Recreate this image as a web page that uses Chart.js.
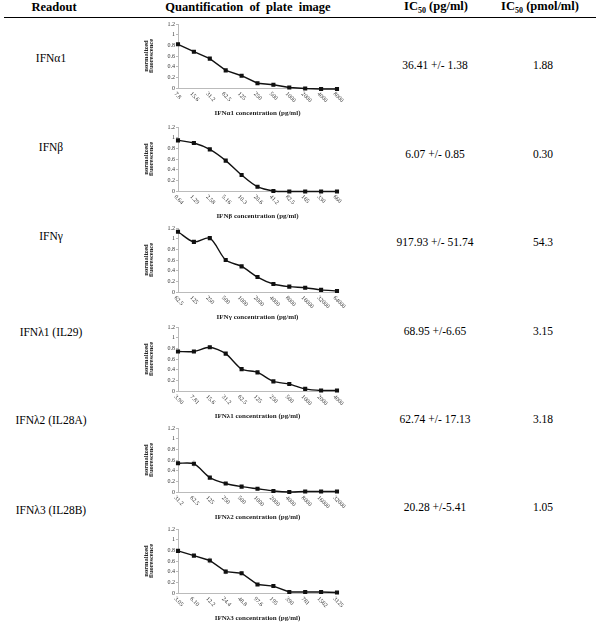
<!DOCTYPE html>
<html>
<head>
<meta charset="utf-8">
<script src="https://cdn.jsdelivr.net/npm/chart.js@4.4.0/dist/chart.umd.min.js"></script>
<style>
body { margin: 0; background: #fff; width: 600px; height: 627px; position: relative; overflow: hidden; font-family: 'Liberation Serif', 'Times New Roman', serif; color: #000; }
.t { position: absolute; white-space: nowrap; transform: translate(-50%, -50%); font-family: 'Liberation Serif', 'Times New Roman', serif; font-size: 11.5px; }
.h { font-weight: bold; font-size: 12.5px; }
.h sub { font-size: 8px; }
.rule { position: absolute; left: 4px; width: 592px; top: 17px; height: 1px; background: #000; }
canvas { position: absolute; }
</style>
</head>
<body>
<div class="rule"></div>
<div class="t h" style="left:54px;top:7px">Readout</div>
<div class="t h" style="left:248px;top:7px">Quantification&nbsp; of&nbsp; plate&nbsp; image</div>
<div class="t h" style="left:436px;top:7px">IC<sub>50</sub> (pg/ml)</div>
<div class="t h" style="left:540px;top:7px">IC<sub>50</sub> (pmol/ml)</div>
<script>
// table text
const readouts = ['IFNα1', 'IFNβ', 'IFNγ', 'IFNλ1 (IL29)', 'IFNλ2 (IL28A)', 'IFNλ3 (IL28B)'];
const ic50Pg = ['36.41 +/- 1.38', '6.07 +/- 0.85', '917.93 +/- 51.74', '68.95 +/-6.65', '62.74 +/- 17.13', '20.28 +/-5.41'];
const ic50Pmol = ['1.88', '0.30', '54.3', '3.15', '3.18', '1.05'];
const axisTitles = ['IFNα1 concentration (pg/ml)', 'IFNβ concentration (pg/ml)', 'IFNγ concentration (pg/ml)',
                    'IFNλ1 concentration (pg/ml)', 'IFNλ2 concentration (pg/ml)', 'IFNλ3 concentration (pg/ml)'];

// concentrations (x categories) and normalized fluorescence per readout
const alpha1Conc = ['7.8', '15.6', '31.2', '62.5', '125', '250', '500', '1000', '2000', '4000', '8000'];
const alpha1Vals = [0.82, 0.68, 0.55, 0.33, 0.23, 0.09, 0.06, 0.01, -0.01, -0.02, -0.02];

const betaConc = ['0.64', '1.29', '2.58', '5.16', '10.3', '20.6', '41.2', '82.5', '165', '330', '660'];
const betaVals = [0.95, 0.90, 0.78, 0.57, 0.30, 0.08, 0.00, -0.01, -0.01, -0.01, -0.01];

const gammaConc = ['62.5', '125', '250', '500', '1000', '2000', '4000', '8000', '16000', '32000', '64000'];
const gammaVals = [1.13, 0.94, 1.01, 0.60, 0.48, 0.28, 0.15, 0.10, 0.08, 0.04, 0.02];

const lambda1Conc = ['3.90', '7.81', '15.6', '31.2', '62.5', '125', '250', '500', '1000', '2000', '4000'];
const lambda1Vals = [0.74, 0.74, 0.82, 0.70, 0.41, 0.35, 0.18, 0.13, 0.04, 0.01, 0.01];

const lambda2Conc = ['31.2', '62.5', '125', '250', '500', '1000', '2000', '4000', '8000', '16000', '32000'];
const lambda2Vals = [0.54, 0.53, 0.27, 0.16, 0.10, 0.06, 0.02, 0.00, 0.01, 0.01, 0.01];
const lambda2Err = [0.02, 0.07, 0.03, 0.02, 0.01, 0.01, 0.01, 0, 0, 0, 0];

const lambda3Conc = ['3.05', '6.10', '12.2', '24.4', '48.8', '97.6', '195', '390', '781', '1562', '3125'];
const lambda3Vals = [0.79, 0.70, 0.61, 0.40, 0.37, 0.16, 0.13, 0.02, 0.02, 0.02, 0.01];
const lambda3Err = [0.02, 0, 0.06, 0.05, 0.04, 0.02, 0.02, 0.01, 0, 0, 0];

const yTicks = [0, 0.2, 0.4, 0.6, 0.8, 1, 1.2];

// layout
const labelY = [58, 147, 236, 332, 420, 510];
const icY = [65, 154, 242, 331, 419, 507];
const plotTop = [24, 127, 228, 327, 428, 529];

readouts.forEach((r, i) => {
    const add = (txt, x, y) => {
        const d = document.createElement('div');
        d.className = 't';
        d.style.left = x + 'px';
        d.style.top = y + 'px';
        d.textContent = txt;
        document.body.appendChild(d);
    };
    add(r, 51, labelY[i]);
    add(ic50Pg[i], 435, icY[i]);
    add(ic50Pmol[i], 543, icY[i]);
});

// x tick labels slanted downward to the right, like the original Excel plots
const slantedTicks = {
    id: 'slantedTicks',
    afterDraw(chart) {
        const xs = chart.scales.x;
        const ctx = chart.ctx;
        ctx.save();
        ctx.font = '6px "Liberation Serif"';
        ctx.fillStyle = '#333';
        ctx.textBaseline = 'middle';
        chart.data.labels.forEach((lab, i) => {
            ctx.save();
            ctx.translate(xs.getPixelForTick(i) - 3, xs.top + 5);
            ctx.rotate(Math.PI / 4);
            ctx.fillText(lab, 0, 0);
            ctx.restore();
        });
        ctx.restore();
    }
};

// faint grey error bars, drawn under the line
const errorBars = {
    id: 'errorBars',
    beforeDatasetsDraw(chart, args, opts) {
        if (!opts.err) return;
        const { x: xs, y: ys } = chart.scales;
        const vals = chart.data.datasets[0].data;
        const ctx = chart.ctx;
        ctx.save();
        ctx.strokeStyle = '#cfcfcf';
        ctx.lineWidth = 1;
        opts.err.forEach((e, i) => {
            if (!e) return;
            const x = xs.getPixelForTick(i);
            ctx.beginPath();
            ctx.moveTo(x, ys.getPixelForValue(vals[i] - e));
            ctx.lineTo(x, ys.getPixelForValue(vals[i] + e));
            ctx.stroke();
        });
        ctx.restore();
    }
};

function makeChart(i, labels, values, tension, err) {
    const cv = document.createElement('canvas');
    cv.width = 222;
    cv.height = 101;
    cv.style.left = '130px';
    cv.style.top = (plotTop[i] - 6) + 'px';
    cv.style.width = '222px';
    cv.style.height = '101px';
    document.body.appendChild(cv);
    new Chart(cv, {
        type: 'line',
        data: {
            labels: labels,
            datasets: [{
                data: values,
                borderColor: '#111',
                backgroundColor: '#111',
                borderWidth: 1.4,
                pointStyle: 'rect',
                pointRadius: 1.9,
                tension: tension,
                clip: 5
            }]
        },
        options: {
            responsive: false,
            maintainAspectRatio: false,
            animation: false,
            layout: { padding: { top: 6, right: 15, left: 0, bottom: 0 } },
            plugins: { legend: { display: false }, tooltip: { enabled: false }, errorBars: { err: err } },
            scales: {
                x: {
                    offset: false,
                    grid: { display: false },
                    border: { color: '#bbb' },
                    ticks: { display: false },
                    title: {
                        display: true,
                        text: axisTitles[i],
                        color: '#222',
                        font: { family: 'Liberation Serif', size: 7, weight: 'bold', lineHeight: 1 },
                        padding: { top: 0, bottom: 2 }
                    },
                    afterFit(scale) { scale.height = 31; }
                },
                y: {
                    min: 0,
                    max: 1.2,
                    afterBuildTicks(scale) { scale.ticks = yTicks.map(v => ({ value: v })); },
                    grid: { display: true, drawOnChartArea: false, tickLength: 2, color: '#bbb' },
                    border: { color: '#bbb' },
                    ticks: {
                        padding: 1,
                        color: '#333',
                        font: { family: 'Liberation Serif', size: 6 },
                        callback: v => String(+v.toFixed(1))
                    },
                    title: {
                        display: true,
                        text: ['normalized', 'fluorescence'],
                        color: '#222',
                        font: { family: 'Liberation Serif', size: 6.5, weight: 'bold', lineHeight: 0.75 },
                        padding: { top: 14, bottom: 0 }
                    },
                    afterFit(scale) { scale.width = 48; }
                }
            }
        },
        plugins: [slantedTicks, errorBars]
    });
}

makeChart(0, alpha1Conc, alpha1Vals, 0);
makeChart(1, betaConc, betaVals, 0.35);
makeChart(2, gammaConc, gammaVals, 0.3);
makeChart(3, lambda1Conc, lambda1Vals, 0.25);
makeChart(4, lambda2Conc, lambda2Vals, 0.25, lambda2Err);
makeChart(5, lambda3Conc, lambda3Vals, 0, lambda3Err);
</script>
</body>
</html>
